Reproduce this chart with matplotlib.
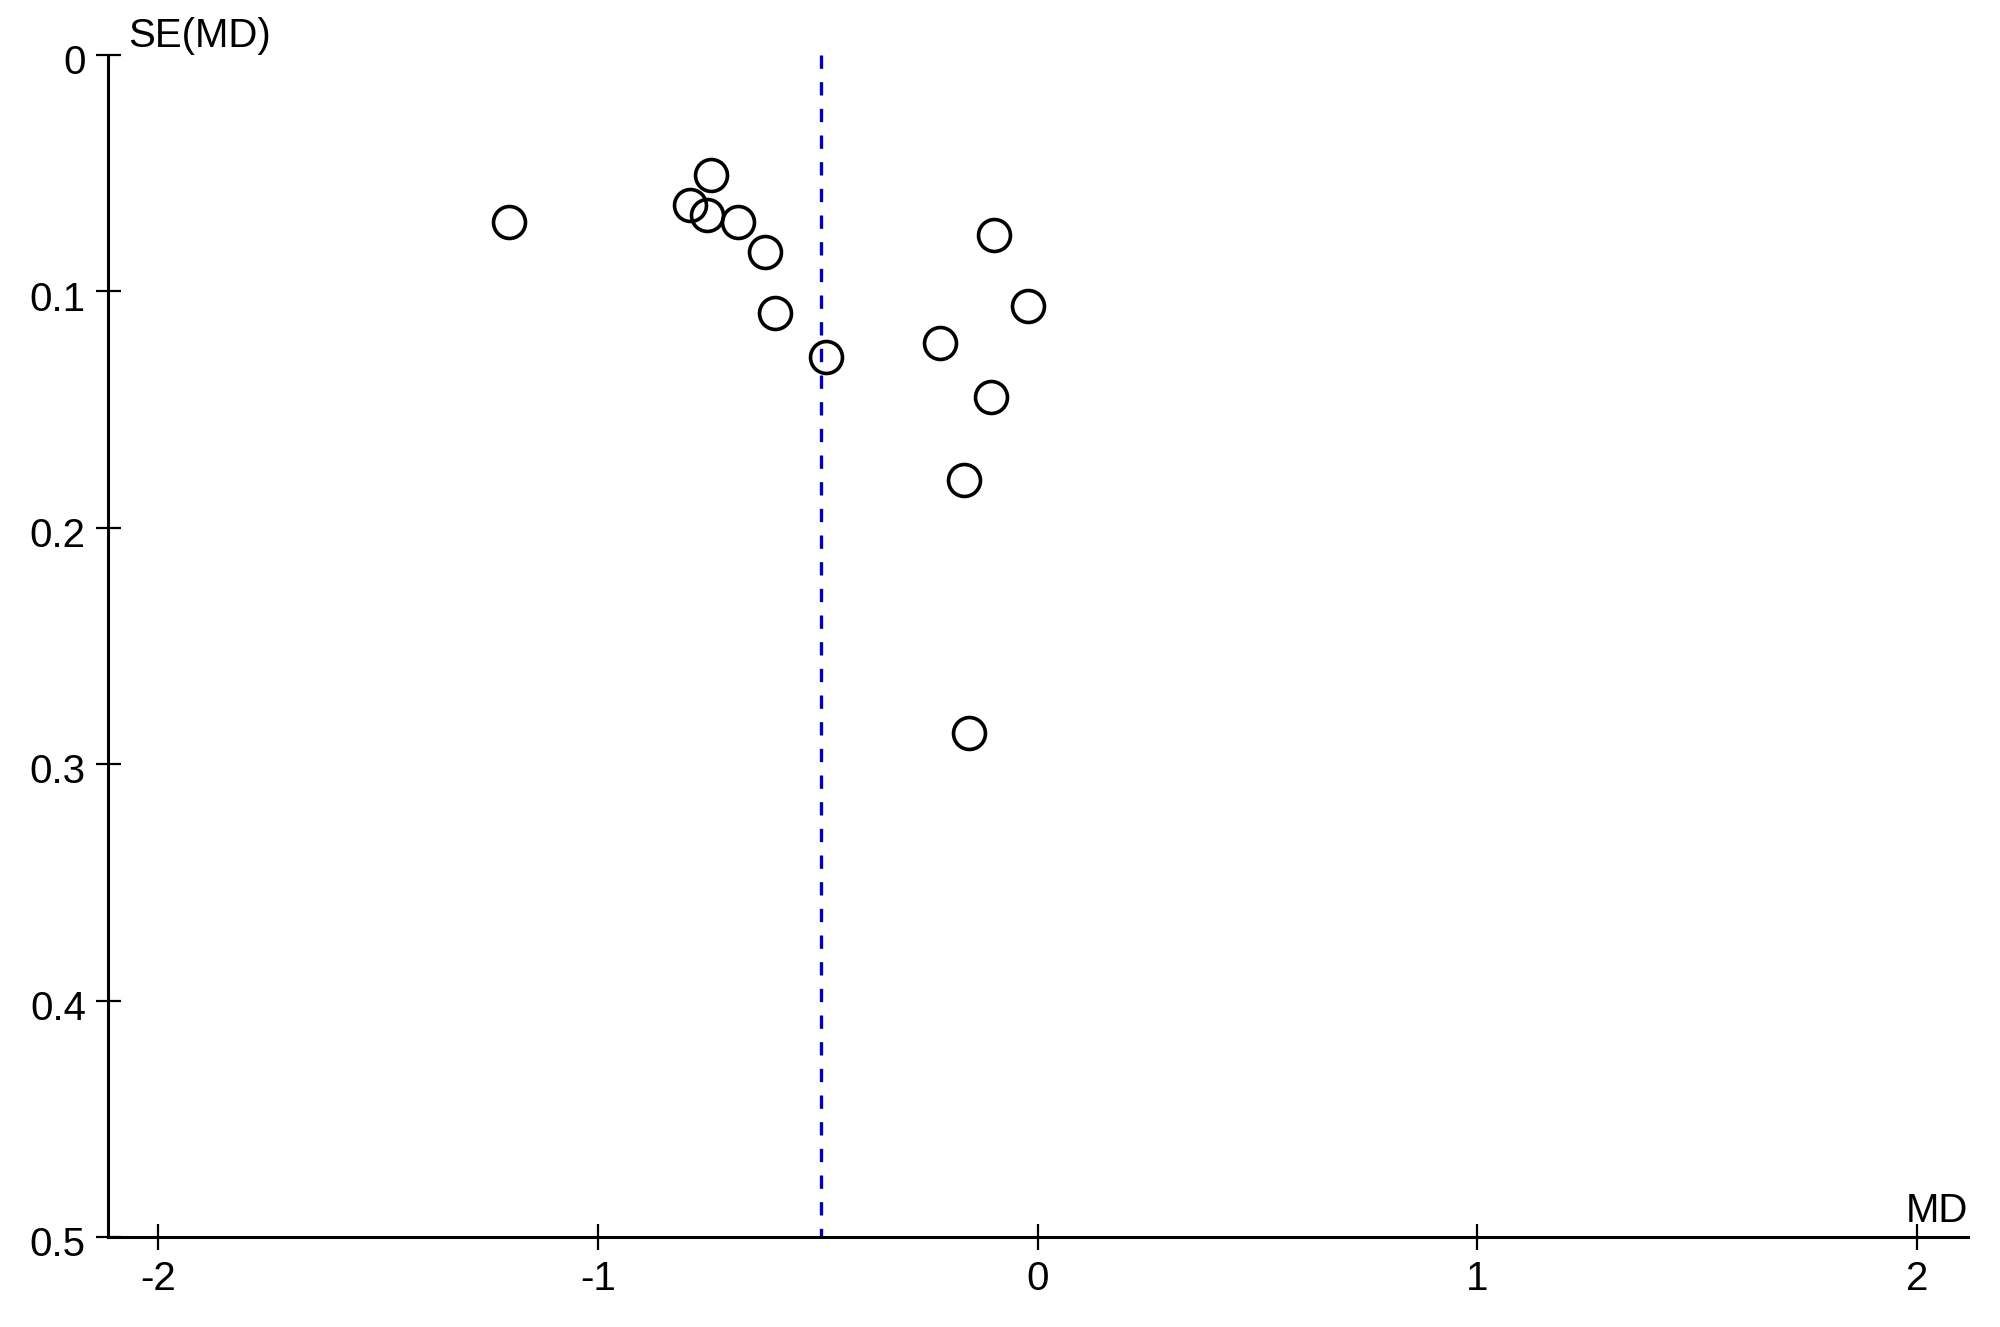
import matplotlib.pyplot as plt
import matplotlib.transforms as mtransforms

plt.rcParams["font.family"] = ["Liberation Sans", "DejaVu Sans"]
plt.rcParams["axes.unicode_minus"] = False

# study estimates
md = [-1.202, -0.743, -0.790, -0.751, -0.682, -0.620, -0.597, -0.482,
      -0.099, -0.022, -0.222, -0.107, -0.168, -0.155]
se = [0.0706, 0.0506, 0.0635, 0.0678, 0.0706, 0.0835, 0.109, 0.1276,
      0.0763, 0.1062, 0.122, 0.1447, 0.180, 0.287]
pooled_md = -0.492

x_ticks = [-2, -1, 0, 1, 2]
x_labels = ["-2", "-1", "0", "1", "2"]
y_ticks = [0, 0.1, 0.2, 0.3, 0.4, 0.5]
y_labels = ["0", "0.1", "0.2", "0.3", "0.4", "0.5"]

fig = plt.figure(figsize=(20, 13.27), dpi=100)
ax = fig.add_axes([0.054, 0.0678, 0.930, 0.8908])

# pooled estimate line
ax.plot([pooled_md, pooled_md], [0, 0.5], color="#0000c0", lw=2.4,
        linestyle=(0, (4.0, 4.0)), zorder=1)

ax.plot(md, se, "o", ms=23, mfc="none", mec="black", mew=2.6,
        zorder=2, clip_on=False)

ax.set_xlim(-2.114, 2.116)
ax.set_ylim(0.5, 0)

for s in ["top", "right"]:
    ax.spines[s].set_visible(False)
ax.spines["left"].set_linewidth(2.2)
ax.spines["bottom"].set_linewidth(2.2)

ax.set_xticks(x_ticks)
ax.set_xticklabels(x_labels)
ax.set_yticks(y_ticks)
ax.set_yticklabels(y_labels)
ax.tick_params(axis="x", direction="inout", length=19, width=1.6,
               labelsize=29, pad=7)
ax.tick_params(axis="y", direction="inout", length=18, width=1.6,
               labelsize=29, pad=7)

# y labels sit slightly below their ticks
offset = mtransforms.ScaledTranslation(0, -3 / 72, fig.dpi_scale_trans)
for lab in ax.get_yticklabels():
    lab.set_transform(lab.get_transform() + offset)

ax.text(0.011, 1.0, "SE(MD)", transform=ax.transAxes, fontsize=29,
        ha="left", va="bottom")
ax.text(1.0, 0.006, "MD", transform=ax.transAxes, fontsize=29,
        ha="right", va="bottom")

fig.savefig("out.png", dpi=100)
